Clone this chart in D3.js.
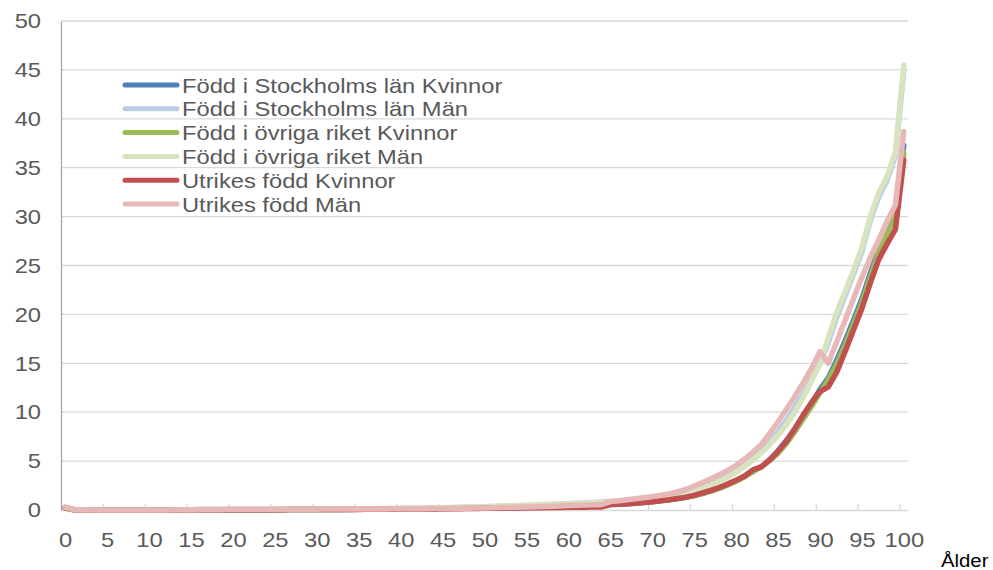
<!DOCTYPE html>
<html>
  <head>
    <meta charset="utf-8">
    <title>Dödsrisk efter ålder</title>
    <script src="https://d3js.org/d3.v7.min.js"></script>
    <style>
      body{
        margin: 0;
        background: #ffffff;
      }
      text{
        font-family: "Liberation Sans", Arial, sans-serif;
      }
    </style>
  </head>
  <body>
    <div id="container"></div>
    <script>

      // DATA - AGES 0..100
      const ages = [0,1,2,3,4,5,6,7,8,9,10,11,12,13,14,15,16,17,18,19,20,21,22,23,24,25,26,27,28,29,30,
        31,32,33,34,35,36,37,38,39,40,41,42,43,44,45,46,47,48,49,50,51,52,53,54,55,56,57,58,59,60,
        61,62,63,64,65,66,67,68,69,70,71,72,73,74,75,76,77,78,79,80,81,82,83,84,85,86,87,88,89,90,
        91,92,93,94,95,96,97,98,99,100];

      const xTickLabels = [0,5,10,15,20,25,30,35,40,45,50,55,60,65,70,75,80,85,90,95,100];
      const yTicks = [0,5,10,15,20,25,30,35,40,45,50];

      const seriesNames = [
        "Född i Stockholms län Kvinnor",
        "Född i Stockholms län Män",
        "Född i övriga riket Kvinnor",
        "Född i övriga riket Män",
        "Utrikes född Kvinnor",
        "Utrikes född Män"
      ];

      const stockholmK = [0.22,0.03,0.02,0.01,0.01,0.01,0.01,0.01,0.01,0.01,
        0.01,0.01,0.01,0.01,0.02,0.02,0.02,0.03,0.03,0.03,
        0.03,0.03,0.03,0.03,0.03,0.03,0.04,0.04,0.04,0.04,
        0.05,0.05,0.05,0.06,0.06,0.07,0.07,0.08,0.08,0.09,
        0.10,0.11,0.12,0.13,0.14,0.15,0.17,0.18,0.20,0.22,
        0.18,0.19,0.21,0.22,0.24,0.26,0.28,0.30,0.32,0.34,
        0.37,0.40,0.43,0.46,0.49,0.55,0.60,0.65,0.70,0.77,
        0.85,0.94,1.04,1.16,1.30,1.48,1.70,1.95,2.25,2.6,
        3.0,3.45,4.05,4.4,5.15,6.05,7.1,8.3,9.6,10.9,
        12.3,13.5,15.3,17.3,19.4,21.6,24.2,26.6,28.6,30.4,37.3];

      const stockholmM = [0.3,0.03,0.02,0.02,0.01,0.01,0.01,0.01,0.01,0.01,
        0.01,0.01,0.01,0.02,0.02,0.03,0.04,0.05,0.06,0.07,
        0.07,0.07,0.08,0.08,0.08,0.08,0.08,0.09,0.09,0.09,
        0.09,0.10,0.10,0.11,0.11,0.12,0.12,0.13,0.14,0.15,
        0.16,0.17,0.18,0.19,0.21,0.22,0.24,0.26,0.28,0.30,
        0.32,0.35,0.38,0.41,0.44,0.47,0.50,0.53,0.57,0.61,
        0.65,0.69,0.73,0.77,0.81,0.86,0.92,0.99,1.07,1.15,
        1.24,1.35,1.48,1.63,1.82,2.05,2.35,2.65,3.0,3.45,
        3.95,4.55,5.25,6.05,6.95,8.0,9.2,10.5,11.9,13.4,
        14.9,17.1,19.7,21.9,24.1,26.4,29.6,32.0,33.7,36.2,45.0];

      const ovrigaK = [0.2,0.02,0.02,0.01,0.01,0.01,0.01,0.01,0.01,0.01,
        0.01,0.01,0.01,0.01,0.02,0.02,0.02,0.03,0.03,0.03,
        0.03,0.03,0.03,0.03,0.03,0.03,0.04,0.04,0.04,0.05,
        0.05,0.05,0.06,0.06,0.07,0.07,0.08,0.08,0.09,0.10,
        0.10,0.11,0.12,0.13,0.15,0.16,0.17,0.19,0.21,0.23,
        0.25,0.27,0.29,0.31,0.33,0.35,0.37,0.39,0.42,0.45,
        0.48,0.51,0.54,0.57,0.60,0.62,0.66,0.71,0.77,0.83,
        0.90,0.98,1.08,1.19,1.32,1.48,1.68,1.92,2.2,2.55,
        2.95,3.4,3.9,4.45,5.05,5.8,6.8,8.0,9.3,10.6,
        12.0,13.3,14.9,16.9,19.0,21.2,23.8,26.3,28.3,30.0,36.5];

      const ovrigaM = [0.28,0.03,0.02,0.02,0.01,0.01,0.01,0.01,0.01,0.01,
        0.01,0.01,0.01,0.02,0.02,0.03,0.04,0.05,0.06,0.07,
        0.07,0.08,0.08,0.08,0.08,0.08,0.09,0.09,0.09,0.10,
        0.10,0.10,0.11,0.11,0.12,0.12,0.13,0.14,0.15,0.16,
        0.17,0.18,0.19,0.21,0.22,0.24,0.26,0.28,0.30,0.32,
        0.34,0.37,0.40,0.43,0.46,0.49,0.52,0.55,0.58,0.62,
        0.65,0.68,0.71,0.74,0.77,0.80,0.86,0.93,1.0,1.08,
        1.17,1.28,1.40,1.55,1.75,1.98,2.25,2.55,2.9,3.35,
        3.85,4.45,5.1,5.85,6.7,7.6,8.7,10.0,11.5,13.2,
        15.0,17.6,20.2,22.3,24.5,26.8,30.0,32.4,34.1,36.6,45.5];

      const utrikesK = [0.25,0.03,0.02,0.02,0.01,0.01,0.01,0.01,0.01,0.01,
        0.01,0.01,0.01,0.01,0.01,0.02,0.02,0.02,0.02,0.03,
        0.03,0.03,0.03,0.03,0.03,0.03,0.03,0.04,0.04,0.04,
        0.04,0.05,0.05,0.05,0.06,0.06,0.07,0.07,0.08,0.08,
        0.09,0.09,0.10,0.11,0.11,0.12,0.13,0.14,0.15,0.16,
        0.17,0.18,0.19,0.20,0.21,0.22,0.23,0.24,0.25,0.26,
        0.27,0.28,0.29,0.30,0.31,0.56,0.60,0.65,0.70,0.77,
        0.85,0.95,1.05,1.17,1.30,1.50,1.75,2.0,2.3,2.65,
        3.05,3.45,4.1,4.4,5.1,6.0,7.0,8.3,9.7,11.0,
        12.1,12.6,14.1,16.2,18.4,20.6,23.2,25.6,27.2,28.7,35.8];

      const utrikesM = [0.3,0.04,0.02,0.02,0.01,0.01,0.01,0.01,0.01,0.01,
        0.01,0.01,0.01,0.02,0.02,0.03,0.04,0.05,0.06,0.07,
        0.07,0.07,0.07,0.07,0.07,0.07,0.08,0.08,0.08,0.08,
        0.08,0.09,0.09,0.09,0.10,0.10,0.10,0.11,0.11,0.12,
        0.12,0.13,0.13,0.14,0.15,0.16,0.17,0.18,0.19,0.20,
        0.21,0.23,0.25,0.27,0.29,0.31,0.33,0.36,0.39,0.42,
        0.45,0.48,0.51,0.54,0.57,0.86,0.95,1.04,1.14,1.25,
        1.37,1.50,1.65,1.84,2.1,2.45,2.8,3.2,3.6,4.05,
        4.55,5.2,5.9,6.7,7.8,9.0,10.3,11.6,13.0,14.5,
        16.2,15.0,17.2,19.4,21.6,23.8,25.8,27.6,29.5,31.2,38.7];

      const seriesValues = [stockholmK, stockholmM, ovrigaK, ovrigaM, utrikesK, utrikesM];
      const colors = ["#4F81BD", "#B9CDE5", "#9BBB59", "#D7E4BD", "#C0504D", "#E6B9B8"];

      // SET DIMENSIONS (PLOT AREA IN PAGE COORDS)
      const width = 993, height = 570;
      const plot = { left: 61, right: 908, top: 21, bottom: 510 };
      const stretch = 1.13;   // text in the picture is a bit wide

      const svg = d3.select("#container")
        .append("svg")
        .attr("width", width)
        .attr("height", height);

      // SCALES
      const x = d3.scaleLinear()
        .domain([-0.5, ages.length - 0.5])
        .range([plot.left, plot.right]);
      const y = d3.scaleLinear()
        .domain([0, 50])
        .range([plot.bottom, plot.top]);

      // GRIDLINES
      svg.append("g")
        .selectAll("line")
        .data(yTicks.filter(d => d > 0))
        .join("line")
        .attr("x1", plot.left)
        .attr("x2", plot.right)
        .attr("y1", d => y(d))
        .attr("y2", d => y(d))
        .attr("stroke", "#d9d9d9")
        .attr("stroke-width", 1.3);

      // X-AXIS LINE + INSIDE TICKS AT CATEGORY BOUNDARIES
      const xTickAxis = svg.append("g")
        .attr("transform", "translate(0," + plot.bottom + ")")
        .call(d3.axisBottom(x)
          .tickValues(xTickLabels.filter(d => d > 0).map(d => d - 0.5))
          .tickSize(-6)
          .tickSizeOuter(0)
          .tickFormat(""));
      xTickAxis.select(".domain").attr("stroke", "#d9d9d9").attr("stroke-width", 1.5);
      xTickAxis.selectAll(".tick line").attr("stroke", "#d9d9d9").attr("stroke-width", 1.3);

      // X-AXIS LABELS
      const xAxis = svg.append("g")
        .attr("transform", "translate(0," + plot.bottom + ")")
        .call(d3.axisBottom(x).tickValues(xTickLabels).tickSize(0).tickFormat(d3.format("d")));
      xAxis.select(".domain").remove();
      xAxis.selectAll("text")
        .attr("y", 22)
        .attr("transform", "scale(" + stretch + ",1)")
        .attr("fill", "#595959")
        .style("font-size", "21px");

      // Y-AXIS
      const yAxis = svg.append("g")
        .attr("transform", "translate(" + plot.left + ",0)")
        .call(d3.axisLeft(y).tickValues(yTicks).tickSize(0).tickSizeOuter(0));
      yAxis.select(".domain").attr("stroke", "#a6a6a6").attr("stroke-width", 1.3);
      yAxis.selectAll("text")
        .attr("x", -20 / stretch)
        .attr("transform", "scale(" + stretch + ",1)")
        .attr("fill", "#595959")
        .style("font-size", "21px");

      // AXIS TITLE
      svg.append("text")
        .attr("transform", "translate(941,567) scale(" + stretch + ",1)")
        .attr("fill", "#000")
        .style("font-size", "18px")
        .text("Ålder");

      // LINES
      const line = d3.line()
        .x((d, i) => x(ages[i]))
        .y(d => y(d));

      svg.append("g")
        .selectAll("path")
        .data(seriesValues)
        .join("path")
        .attr("d", d => line(d))
        .attr("fill", "none")
        .attr("stroke", (d, i) => colors[i])
        .attr("stroke-width", 5.5)
        .attr("stroke-linejoin", "round")
        .attr("stroke-linecap", "round");

      // LEGEND
      const legend = svg.append("g")
        .selectAll("g")
        .data(seriesNames)
        .join("g")
        .attr("transform", (d, i) => "translate(0," + (85 + i * 23.8) + ")");
      legend.append("line")
        .attr("x1", 125)
        .attr("x2", 177)
        .attr("stroke", (d, i) => colors[i])
        .attr("stroke-width", 5)
        .attr("stroke-linecap", "round");
      legend.append("text")
        .attr("transform", "translate(182,7.5) scale(" + stretch + ",1)")
        .attr("fill", "#595959")
        .style("font-size", "21px")
        .text(d => d);

    </script>
  </body>
</html>
